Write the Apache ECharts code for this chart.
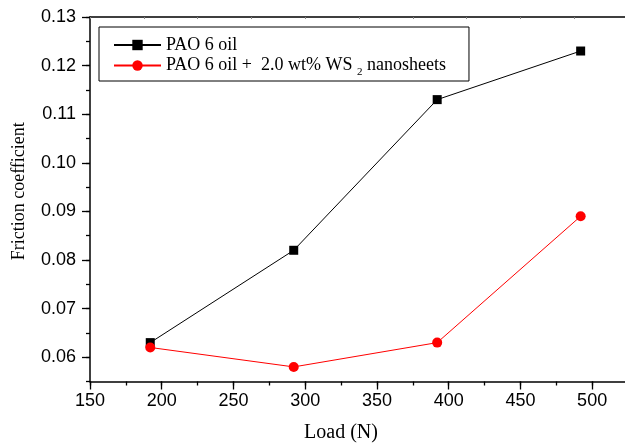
<!DOCTYPE html>
<html><head><meta charset="utf-8">
<script src="https://cdn.jsdelivr.net/npm/echarts@6/dist/echarts.min.js"></script>
<style>html,body{margin:0;padding:0;background:#fff}#c{width:625px;height:444px}</style>
</head><body><div id="c"></div>
<script>
const loads = [192, 292, 392, 492];
const paoOil = [0.063, 0.082, 0.113, 0.123];
const paoWs2 = [0.062, 0.058, 0.063, 0.089];
const xTickLabels = [150, 200, 250, 300, 350, 400, 450, 500];
const yTickLabels = [0.06, 0.07, 0.08, 0.09, 0.10, 0.11, 0.12, 0.13];
const seriesNames = ['PAO 6 oil', 'PAO 6 oil +  2.0 wt% WS2 nanosheets'];
const xName = 'Load (N)';
const yName = 'Friction coefficient';

const serif = 'Liberation Serif';
const sans = 'Liberation Sans';
const axisLineStyle = { color: '#000', width: 1.5 };

const chart = echarts.init(document.getElementById('c'), null, { renderer: 'canvas' });
chart.setOption({
  animation: false,
  backgroundColor: '#fff',
  grid: { left: 90, top: 17, right: -3, bottom: 62.5, containLabel: false, outerBoundsMode: 'none' },
  legend: {
    orient: 'vertical', left: 99, top: 27,
    padding: [9, 23, 3, 14],
    itemWidth: 47, itemHeight: 13, itemGap: -1,
    borderColor: '#000', borderWidth: 1,
    data: seriesNames,
    formatter: function (name) {
      if (name === seriesNames[1]) {
        return '{a|PAO 6 oil +  2.0 wt% WS }{s|2}{a| nanosheets}';
      }
      return '{a|' + name + '}';
    },
    textStyle: {
      fontFamily: serif, fontSize: 18, color: '#000',
      rich: {
        a: { fontFamily: serif, fontSize: 18, color: '#000', lineHeight: 18 },
        s: { fontFamily: serif, fontSize: 11, color: '#000', lineHeight: 11, padding: [14, 0, 0, 0] }
      }
    }
  },
  xAxis: [
    {
      type: 'value', position: 'bottom', min: 150, max: 525,
      name: xName, nameLocation: 'middle', nameGap: 41,
      nameTextStyle: { fontFamily: serif, fontSize: 20, color: '#000', padding: [0, 36, 0, 0] },
      axisLine: { show: true, lineStyle: axisLineStyle },
      axisTick: { show: true, length: 8, customValues: xTickLabels, lineStyle: { color: '#000', width: 1.3 } },
      axisLabel: { customValues: xTickLabels, margin: 11, fontFamily: sans, fontSize: 18, color: '#000' },
      splitLine: { show: false }
    },
    {
      type: 'value', position: 'bottom', min: 150, max: 525, interval: 25,
      axisLine: { show: false },
      axisTick: { show: true, length: 4, lineStyle: { color: '#000', width: 1.3 } },
      axisLabel: { show: false },
      splitLine: { show: false }
    },
    {
      type: 'value', position: 'top', min: 150, max: 525, interval: 37.5,
      axisLine: { show: true, lineStyle: axisLineStyle },
      axisTick: { show: true, inside: true, length: 2, lineStyle: { color: '#888', width: 1 } },
      axisLabel: { show: false },
      splitLine: { show: false }
    }
  ],
  yAxis: [
    {
      type: 'value', position: 'left', min: 0.055, max: 0.13,
      name: yName, nameLocation: 'middle', nameGap: 62, nameRotate: 90,
      nameTextStyle: { fontFamily: serif, fontSize: 18, color: '#000', padding: [0, 0, 0, 16] },
      axisLine: { show: true, lineStyle: axisLineStyle },
      axisTick: { show: true, length: 8, customValues: yTickLabels, lineStyle: { color: '#000', width: 1.3 } },
      axisLabel: { customValues: yTickLabels, margin: 14, fontFamily: sans, fontSize: 18, color: '#000',
        formatter: function (v) { return v.toFixed(2); } },
      splitLine: { show: false }
    },
    {
      type: 'value', position: 'left', min: 0.055, max: 0.13, interval: 0.005,
      axisLine: { show: false },
      axisTick: { show: true, length: 4, lineStyle: { color: '#000', width: 1.3 } },
      axisLabel: { show: false },
      splitLine: { show: false }
    }
  ],
  series: [
    {
      name: seriesNames[0], type: 'line', xAxisIndex: 0, yAxisIndex: 0,
      data: loads.map(function (x, i) { return [x, paoOil[i]]; }),
      symbol: 'rect', symbolSize: 9,
      itemStyle: { color: '#000' },
      lineStyle: { color: '#000', width: 1 }
    },
    {
      name: seriesNames[1], type: 'line', xAxisIndex: 0, yAxisIndex: 0,
      data: loads.map(function (x, i) { return [x, paoWs2[i]]; }),
      symbol: 'circle', symbolSize: 10,
      itemStyle: { color: '#ff0000' },
      lineStyle: { color: '#ff0000', width: 1 }
    }
  ]
});
</script>
</body></html>
